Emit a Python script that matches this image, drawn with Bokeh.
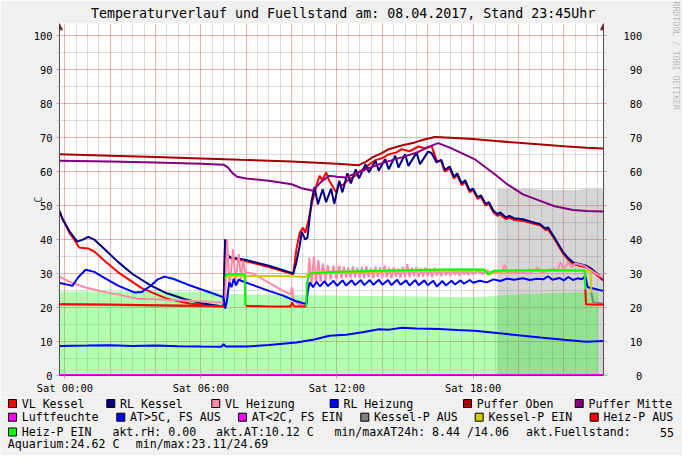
import math
from bokeh.plotting import figure
from bokeh.models import Range1d, LinearAxis, FixedTicker, Arrow, NormalHead, Title
from bokeh.layouts import column
from bokeh.embed import file_html
from bokeh.resources import INLINE
from bokeh.core.properties import value

NAN = float("nan")
MONO = "DejaVu Sans Mono"
NB = "\u00a0"

# ---------------- data (hours since Sat 00:00, degrees C) ----------------
TITLE = "Temperaturverlauf und Fuellstand am: 08.04.2017, Stand 23:45Uhr"
WATERMARK = "RRDTOOL / TOBI OETIKER"
X_TICKS = [0, 6, 12, 18]
X_TICK_LABELS = ["Sat 00:00", "Sat 06:00", "Sat 12:00", "Sat 18:00"]
X_MAJOR_GRID = [0, 2, 4, 6, 8, 10, 12, 14, 16, 18, 20, 22]
X_MINOR_GRID = [0.5, 1, 1.5, 2.5, 3, 3.5, 4.5, 5, 5.5, 6.5, 7, 7.5, 8.5, 9, 9.5, 10.5, 11, 11.5,
                12.5, 13, 13.5, 14.5, 15, 15.5, 16.5, 17, 17.5, 18.5, 19, 19.5, 20.5, 21, 21.5,
                22.5, 23, 23.5]
Y_TICKS = [0, 10, 20, 30, 40, 50, 60, 70, 80, 90, 100]
Y_MINOR = [5, 15, 25, 35, 45, 55, 65, 75, 85, 95]
Y_RIGHT_LABELS = [NB + NB + "0", NB + "10", NB + "20", NB + "30", NB + "40", NB + "50",
                  NB + "60", NB + "70", NB + "80", NB + "90", "100"]

fuellstand = [(19.07, 55.0), (20.5, 55.0), (21.0, 54.6), (22.6, 54.6), (23.0, 55.0), (23.74, 55.0)]
aquarium = [(-0.23, 24.69), (3.0, 24.69), (6.5, 24.6), (7.0, 24.0), (9.0, 23.8), (11.0, 23.6),
            (13.0, 23.4), (15.0, 23.3), (17.0, 23.11), (18.5, 23.2), (19.0, 23.4), (20.0, 23.9),
            (21.5, 24.2), (23.0, 24.55), (23.52, 24.62)]

vl_kessel = [(-0.23, 48.0), (0.0, 45.0), (0.2, 42.0), (0.41, 40.1), (0.63, 37.7), (1.03, 37.4),
             (1.3, 36.5), (1.8, 33.5), (2.37, 30.3), (3.39, 25.7), (4.55, 22.5), (5.5, 21.2),
             (6.3, 20.6), (7.0, 20.3), (7.07, 40.0), (7.14, 36.0), (7.3, 34.5), (8.0, 33.6),
             (9.0, 31.9), (10.07, 29.8), (10.21, 37.2), (10.36, 42.1), (10.5, 43.5), (10.6, 42.0),
             (10.72, 45.0), (10.94, 51.9), (11.1, 56.0), (11.23, 58.8), (11.35, 57.5), (11.52, 59.8),
             (11.66, 57.3), (11.96, 53.9), (12.1, 56.3), (12.25, 56.0), (12.54, 57.8), (12.83, 58.8),
             (13.0, 60.0), (13.26, 61.2), (13.5, 62.5), (13.7, 63.4), (14.0, 64.0), (14.28, 65.1),
             (14.6, 65.6), (14.86, 66.6), (15.2, 66.0), (15.59, 67.4), (15.9, 66.8), (16.17, 67.6),
             (16.39, 63.3), (16.6, 63.0), (16.75, 60.0), (16.97, 61.0), (17.15, 58.0), (17.3, 59.0),
             (17.5, 56.0), (17.65, 57.0), (17.85, 54.0), (18.0, 54.5), (18.2, 52.0), (18.35, 52.5),
             (18.55, 50.0), (18.7, 50.5), (18.9, 48.0), (19.07, 47.0), (19.2, 47.3), (19.45, 46.0),
             (19.6, 46.5), (19.8, 45.8), (20.2, 45.5), (20.6, 44.8), (20.96, 44.2), (21.2, 42.8),
             (21.3, 43.0), (21.54, 40.7), (21.98, 35.8), (22.2, 34.0), (22.41, 32.8), (23.0, 31.8),
             (23.2, 31.0), (23.74, 28.0)]

rl_kessel = [(-0.23, 48.5), (-0.1, 46.0), (0.2, 42.5), (0.55, 39.4), (0.8, 40.0), (1.03, 40.8),
             (1.3, 40.0), (1.7, 37.5), (2.37, 33.3), (3.0, 29.8), (3.82, 26.4), (4.5, 24.2),
             (5.27, 22.5), (6.0, 21.3), (6.6, 20.7), (7.0, 20.3), (7.07, 40.1), (7.14, 35.5),
             (7.3, 34.8), (8.0, 34.0), (9.0, 32.3), (10.07, 30.0), (10.2, 33.0), (10.35, 38.0),
             (10.45, 42.3), (10.6, 40.0), (10.7, 40.6), (10.87, 51.0), (11.01, 55.5), (11.16, 50.4),
             (11.37, 54.8), (11.52, 51.0), (11.74, 55.0), (11.88, 50.5), (12.1, 57.3), (12.24, 53.9),
             (12.46, 59.5), (12.61, 56.5), (12.83, 60.7), (12.97, 58.0), (13.26, 62.2), (13.41, 59.8),
             (13.7, 63.2), (13.84, 60.3), (14.13, 63.7), (14.28, 60.7), (14.57, 64.7), (14.71, 61.2),
             (15.0, 65.1), (15.15, 61.7), (15.51, 65.6), (15.66, 62.2), (16.02, 65.9), (16.17, 65.5),
             (16.39, 62.7), (16.6, 63.5), (16.75, 60.5), (16.97, 61.5), (17.15, 58.5), (17.3, 59.5),
             (17.5, 56.5), (17.65, 57.5), (17.85, 54.5), (18.0, 55.0), (18.2, 52.5), (18.35, 53.0),
             (18.55, 50.5), (18.7, 51.0), (18.9, 48.5), (19.07, 47.5), (19.2, 48.0), (19.45, 46.5),
             (19.6, 47.0), (19.8, 46.3), (20.2, 46.0), (20.6, 45.2), (20.96, 44.5), (21.2, 43.2),
             (21.3, 43.6), (21.54, 41.1), (21.98, 36.2), (22.2, 34.5), (22.41, 33.3), (23.0, 32.3),
             (23.2, 31.5), (23.74, 28.4)]

vl_heizung = [(-0.23, 29.1), (0.2, 27.6), (0.92, 25.9), (1.6, 24.8), (2.37, 23.8), (3.24, 22.5),
              (3.6, 22.6), (4.5, 22.3), (5.5, 22.0), (6.5, 21.6), (7.0, 21.5), (7.07, 23.0),
              (7.16, 40.1), (7.26, 25.9), (7.42, 37.2), (7.52, 27.4), (7.67, 35.7), (7.77, 28.4),
              (7.86, 33.8), (7.96, 30.3), (8.3, 30.0), (9.0, 27.3), (9.49, 25.4), (9.95, 23.9),
              (10.02, 25.9), (10.1, 22.0), (10.3, 21.0), (10.6, 20.8), (10.68, 24.0), (10.78, 34.7),
              (10.88, 26.4), (10.98, 35.0), (11.08, 27.0), (11.18, 34.0), (11.28, 27.5), (11.38, 33.0),
              (11.5, 28.0), (11.6, 32.5), (11.72, 28.3), (11.85, 32.3), (11.98, 28.4), (12.1, 32.3),
              (12.2, 28.6), (12.3, 32.0), (12.4, 28.8), (12.5, 31.8), (12.6, 28.7), (12.7, 32.1),
              (12.8, 28.9), (12.9, 31.7), (13.0, 28.8), (13.1, 31.9), (13.2, 28.6), (13.3, 32.1),
              (13.4, 28.9), (13.5, 31.6), (13.6, 28.7), (13.7, 32.0), (13.8, 29.0), (13.9, 31.8),
              (14.0, 28.8), (14.1, 32.4), (14.2, 28.9), (14.3, 31.7), (14.4, 28.7), (14.5, 31.9),
              (14.6, 29.1), (14.7, 31.6), (14.8, 28.8), (14.9, 32.0), (15.0, 29.0), (15.1, 32.8),
              (15.2, 28.9), (15.3, 31.7), (15.4, 29.2), (15.5, 31.9), (15.6, 28.9), (15.7, 31.5),
              (15.8, 29.1), (15.9, 31.8), (16.0, 29.3), (16.1, 31.4), (16.2, 29.0), (16.3, 31.7),
              (16.4, 29.4), (16.5, 31.2), (16.6, 29.2), (16.7, 31.5), (16.8, 29.5), (16.9, 31.1),
              (17.0, 29.3), (17.1, 31.3), (17.2, 29.6), (17.3, 31.0), (17.4, 29.4), (17.5, 31.2),
              (17.6, 29.7), (17.7, 30.9), (17.8, 29.5), (17.9, 31.1), (18.0, 29.8), (18.2, 30.8),
              (18.4, 29.9), (18.6, 31.0), (18.8, 30.0), (19.0, 30.7), (19.2, 29.9), (19.4, 32.6),
              (19.5, 30.4), (19.8, 30.1), (20.1, 30.6), (20.4, 29.9), (20.7, 30.8), (20.85, 31.8),
              (21.0, 30.2), (21.3, 30.8), (21.55, 31.5), (21.7, 30.6), (21.86, 33.4), (22.0, 31.0),
              (22.2, 33.5), (22.35, 31.8), (22.5, 33.0), (22.9, 32.3), (23.3, 30.5), (23.74, 28.7)]

rl_heizung = [(-0.23, 27.2), (0.0, 26.9), (0.34, 26.4), (0.6, 29.0), (0.92, 31.1), (1.3, 30.5),
              (1.8, 28.5), (2.37, 26.4), (3.09, 24.4), (3.4, 24.6), (3.8, 26.5), (4.1, 28.3),
              (4.4, 29.1), (4.8, 28.4), (5.4, 26.8), (6.0, 25.4), (6.6, 24.0), (7.0, 23.0),
              (7.07, 19.7), (7.15, 22.0), (7.25, 27.4), (7.35, 26.0), (7.45, 28.5), (7.55, 26.5),
              (7.67, 28.3), (7.8, 27.8), (8.18, 26.9), (9.0, 24.9), (9.63, 23.5), (10.14, 22.0),
              (10.65, 21.0), (10.72, 25.0), (10.8, 27.4), (10.95, 26.0), (11.1, 27.6), (11.25, 26.2),
              (11.45, 27.8), (11.6, 26.3), (11.85, 27.9), (12.0, 26.4), (12.25, 28.0), (12.4, 26.5),
              (12.65, 28.0), (12.8, 26.6), (13.05, 28.1), (13.2, 26.6), (13.45, 28.1), (13.6, 26.7),
              (13.85, 28.2), (14.0, 26.7), (14.25, 28.1), (14.4, 26.6), (14.65, 28.2), (14.8, 26.7),
              (15.05, 28.0), (15.2, 26.5), (15.45, 28.1), (15.6, 26.6), (15.85, 28.0), (16.0, 26.6),
              (16.25, 27.9), (16.4, 26.2), (16.65, 27.8), (16.8, 26.5), (17.05, 27.9), (17.2, 26.8),
              (17.45, 28.0), (17.6, 27.0), (17.85, 28.1), (18.0, 27.3), (18.3, 27.9), (18.6, 27.4),
              (18.9, 28.3), (19.2, 27.8), (19.5, 28.5), (19.8, 28.2), (20.2, 28.6), (20.5, 28.1),
              (20.8, 28.5), (21.1, 28.3), (21.3, 29.2), (21.5, 28.2), (21.8, 28.7), (22.0, 28.0),
              (22.2, 29.0), (22.4, 28.1), (22.6, 28.6), (22.8, 28.3), (22.95, 29.2), (23.05, 26.0),
              (23.3, 25.6), (23.74, 24.9)]

puffer_oben = [(-0.23, 65.1), (2.0, 64.7), (4.0, 64.3), (6.0, 63.9), (7.74, 63.5), (10.0, 63.0),
               (12.0, 62.3), (12.97, 61.9), (13.3, 63.0), (13.56, 64.2), (14.0, 65.5), (14.28, 66.6),
               (14.8, 67.6), (15.44, 68.6), (15.8, 69.4), (16.31, 70.2), (17.0, 70.0), (18.0, 69.6),
               (19.0, 69.0), (20.0, 68.5), (21.0, 68.0), (22.0, 67.5), (23.0, 67.0), (23.74, 66.8)]

puffer_mitte = [(-0.23, 63.2), (2.0, 63.0), (4.0, 62.7), (6.0, 62.3), (7.02, 62.0), (7.2, 61.2),
                (7.4, 59.5), (7.6, 58.5), (8.0, 58.0), (9.0, 57.3), (10.0, 56.3), (10.4, 55.2),
                (10.94, 54.4), (11.3, 57.0), (11.66, 58.8), (12.0, 58.5), (12.39, 58.3), (13.26, 60.7),
                (14.0, 62.5), (15.0, 64.5), (15.59, 65.8), (16.0, 67.2), (16.46, 68.4), (17.0, 67.0),
                (18.06, 63.7), (19.0, 59.0), (19.5, 56.3), (20.2, 53.3), (20.96, 51.4), (21.6, 49.8),
                (22.41, 48.7), (23.0, 48.4), (23.74, 48.3)]

luftfeuchte = [(-0.23, 0.0), (23.74, 0.0)]

aussentemp = [(-0.23, 8.7), (1.0, 8.8), (2.0, 8.9), (3.0, 8.7), (4.0, 8.8), (5.0, 8.6), (6.0, 8.5),
              (6.9, 8.44), (7.0, 9.2), (7.1, 8.5), (8.0, 8.5), (9.0, 9.0), (10.21, 9.7), (11.0, 10.6),
              (11.66, 11.7), (12.4, 12.0), (13.12, 12.7), (13.84, 13.6), (14.3, 13.5), (14.86, 14.06),
              (15.5, 13.8), (16.5, 13.7), (17.3, 13.4), (18.06, 13.2), (19.5, 12.2), (20.96, 11.2),
              (22.0, 10.5), (23.0, 9.9), (23.74, 10.12)]

kessel_p_aus = [(-0.23, 21.0), (7.0, 20.3), None, (23.21, 24.4), (23.3, 21.5), (23.74, 21.2)]
kessel_p_ein = [(7.08, 28.3), (7.12, 29.3), (8.5, 29.3), (10.0, 29.2), (10.62, 29.0), (10.7, 29.8),
                (10.9, 30.2), (12.0, 30.4), (14.0, 30.6), (16.0, 30.9), (17.5, 31.0), (18.5, 30.9),
                (18.7, 29.6), (18.95, 30.6), (20.5, 30.8), (22.0, 30.8), (23.18, 30.8), (23.21, 24.4)]
heiz_p_aus = [(-0.23, 21.0), (2.0, 20.9), (4.0, 20.7), (6.0, 20.5), (7.04, 20.3), None,
              (7.97, 20.5), (9.0, 20.3), (9.95, 20.3), (10.02, 21.5), (10.1, 20.4), (10.64, 20.3), None,
              (22.95, 25.4), (22.98, 21.0), (23.3, 20.9), (23.74, 20.8)]
heiz_p_ein = [(7.08, 28.8), (7.12, 29.9), (7.93, 29.9), (7.96, 20.6), None,
              (10.65, 20.3), (10.67, 26.9), (10.8, 30.0), (12.0, 30.5), (14.0, 30.8), (16.0, 31.1),
              (17.5, 31.3), (18.5, 31.2), (18.65, 29.8), (18.9, 30.8), (20.5, 31.0), (22.0, 31.0),
              (22.92, 30.9), (22.95, 25.4)]

LEGEND_ROW1 = ["VL Kessel", "RL Kessel", "VL Heizung", "RL Heizung", "Puffer Oben", "Puffer Mitte"]
LEGEND_ROW2 = ["Luftfeuchte", "AT>5C, FS AUS", "AT<2C, FS EIN", "Kessel-P AUS", "Kessel-P EIN", "Heiz-P AUS"]
LEGEND_ROW3 = ["Heiz-P EIN"]
INFO_ROW3 = ["akt.rH: 0.00", "akt.AT:10.12 C", "min/maxAT24h: 8.44 /14.06", "akt.Fuellstand:"]
INFO_ROW3_VALUE = "55"
INFO_ROW4 = ["Aquarium:24.62 C", "min/max:23.11/24.69"]

# ---------------- styles ----------------
COLORS = {
    "VL Kessel": "#ff0000", "RL Kessel": "#000080", "VL Heizung": "#ff8aa8", "RL Heizung": "#0000ff",
    "Puffer Oben": "#a50000", "Puffer Mitte": "#800080", "Luftfeuchte": "#ff00ff",
    "AT>5C, FS AUS": "#0000ff", "AT<2C, FS EIN": "#ff00ff", "Kessel-P AUS": "#808080",
    "Kessel-P EIN": "#cccc00", "Heiz-P AUS": "#ff0000", "Heiz-P EIN": "#00ff00",
}
BACK = "#f0f0f0"
ARROW_C = "#7f1f1f"
AXIS_C = "#4d4d4d"
TICK_FS = "10.4px"
LEG_FS = "11.6px"


def split(pairs):
    xs = [NAN if q is None else q[0] for q in pairs]
    ys = [NAN if q is None else q[1] for q in pairs]
    return xs, ys


X0, X1 = -0.233, 23.75
H1 = 397
p = figure(width=682, height=H1, x_range=Range1d(X0, X1), y_range=Range1d(0, 103.6),
           output_backend="svg", toolbar_location=None, title=TITLE,
           min_border_left=59, min_border_right=73, min_border_top=23, min_border_bottom=22,
           background_fill_color="white", border_fill_color=BACK, outline_line_color=None)
p.title.align = "left"
p.title.offset = 31.5
p.title.standoff = 6
p.title.text_font = MONO
p.title.text_font_size = "13.3px"
p.title.text_font_style = "normal"
p.title.text_color = "black"

# grids
p.xgrid.ticker = FixedTicker(ticks=X_MAJOR_GRID, minor_ticks=X_MINOR_GRID)
p.ygrid.ticker = FixedTicker(ticks=Y_TICKS, minor_ticks=Y_MINOR)
for g in (p.xgrid, p.ygrid):
    g.grid_line_color = "#de5050"
    g.grid_line_alpha = 0.45
    g.minor_grid_line_color = "#8f8f8f"
    g.minor_grid_line_alpha = 0.3

# axes
xa = p.xaxis[0]
xa.ticker = FixedTicker(ticks=X_TICKS)
xa.major_label_overrides = dict(zip(X_TICKS, X_TICK_LABELS))
ya = p.yaxis[0]
ya.ticker = FixedTicker(ticks=Y_TICKS, minor_ticks=Y_MINOR)
ya.axis_label = "C"
ya.axis_label_standoff = -13
ya.axis_label_text_font = MONO
ya.axis_label_text_font_size = TICK_FS
ya.axis_label_text_font_style = "normal"
yr = LinearAxis(ticker=FixedTicker(ticks=Y_TICKS, minor_ticks=Y_MINOR),
                major_label_overrides=dict(zip(Y_TICKS, Y_RIGHT_LABELS)),
                axis_label=NB, axis_label_text_font_size="1px", axis_label_standoff=21)
p.add_layout(yr, "right")
for ax in (xa, ya, yr):
    ax.axis_line_color = AXIS_C
    ax.axis_line_width = 1
    ax.major_label_text_font = MONO
    ax.major_label_text_font_size = TICK_FS
    ax.major_label_text_color = "black"
    ax.major_tick_in = 0
    ax.major_tick_out = 3
    ax.minor_tick_in = 0
    ax.minor_tick_out = 2
    ax.major_tick_line_color = "#e09090"
    ax.minor_tick_line_color = "#c0c0c0"
xa.minor_tick_out = 0
xa.major_label_standoff = 3
ya.major_label_standoff = 4
yr.major_label_standoff = 17

# watermark on the right side (placed after the right axis)
p.add_layout(Title(text=WATERMARK, align="left", offset=-22, standoff=0, vertical_align="bottom",
                   text_font=MONO, text_font_size="8.2px", text_font_style="normal",
                   text_color="#bdbdbd"), "right")

# areas
fx, fy = split(fuellstand)
p.varea(x=fx, y1=[0] * len(fx), y2=fy, fill_color="#808080", fill_alpha=0.33)
ax_, ay_ = split(aquarium)
p.varea(x=ax_, y1=[0] * len(ax_), y2=ay_, fill_color="#00ff00", fill_alpha=0.3)

# lines in legend order
series = [
    (vl_kessel, "VL Kessel", 2), (rl_kessel, "RL Kessel", 2), (vl_heizung, "VL Heizung", 2),
    (rl_heizung, "RL Heizung", 2), (puffer_oben, "Puffer Oben", 2), (puffer_mitte, "Puffer Mitte", 2),
    (luftfeuchte, "Luftfeuchte", 3), (aussentemp, "AT>5C, FS AUS", 2),
    (kessel_p_aus, "Kessel-P AUS", 2), (kessel_p_ein, "Kessel-P EIN", 2),
    (heiz_p_aus, "Heiz-P AUS", 2), (heiz_p_ein, "Heiz-P EIN", 2),
]
for pairs, name, w in series:
    xs, ys = split(pairs)
    p.line(xs, ys, line_color=COLORS[name], line_width=w)

# arrows at the top of both value axes
for xv in (X0, X1):
    p.add_layout(Arrow(end=NormalHead(size=6, fill_color=ARROW_C, line_color=ARROW_C),
                       x_start=xv, y_start=100, x_end=xv, y_end=103.5, line_alpha=0))

# ---------------- legend panel (own figure, pixel coordinates) ----------------
H2 = 455 - H1
q = figure(width=682, height=H2, x_range=Range1d(0, 682), y_range=Range1d(H2, 0),
           output_backend="svg", toolbar_location=None, min_border=0,
           x_axis_location=None, y_axis_location=None,
           background_fill_color=BACK, border_fill_color=BACK, outline_line_color=None)
q.grid.visible = False
for fig in (p, q):
    if "frame_align" in fig.properties():
        fig.frame_align = False

PX, PY = 8, 8 + H1  # page offset of the legend panel
ROW_Y = [411.0, 424.7, 439.5, 451.7]
ROW1_X = [30, 128.3, 233.3, 351.7, 485, 596.7]
ROW2_X = [30, 138.3, 260, 382.3, 496.7, 611.7]
ROW3_X = [30]
INFO3_X = [120.7, 224.3, 342.7, 534.3]
INFO3_VALUE_RIGHT = 681.5
INFO4_X = [16, 144]

sw_x, sw_y, sw_c, tx_x, tx_y, tx_t = [], [], [], [], [], []
for names, xs_, ry in ((LEGEND_ROW1, ROW1_X, ROW_Y[0]), (LEGEND_ROW2, ROW2_X, ROW_Y[1]),
                       (LEGEND_ROW3, ROW3_X, ROW_Y[2])):
    for nm, tx in zip(names, xs_):
        sw_x.append(tx - 10 - PX)
        sw_y.append(ry - PY)
        sw_c.append(COLORS[nm])
        tx_x.append(tx - 0.8 - PX)
        tx_y.append(ry - PY)
        tx_t.append(nm)
for texts, xs_, ry in ((INFO_ROW3, INFO3_X, ROW_Y[2]), (INFO_ROW4, INFO4_X, ROW_Y[3])):
    for t, tx in zip(texts, xs_):
        tx_x.append(tx - 0.8 - PX)
        tx_y.append(ry - PY)
        tx_t.append(t)

q.rect(x=sw_x, y=sw_y, width=8, height=8, fill_color=sw_c, line_color="black", line_width=1)
q.text(x=tx_x, y=tx_y, text=tx_t, text_font=value(MONO), text_font_size=LEG_FS,
       text_baseline="middle", text_align="left", text_color="black")
q.text(x=[INFO3_VALUE_RIGHT - PX], y=[ROW_Y[2] - PY], text=[INFO_ROW3_VALUE], text_font=value(MONO),
       text_font_size=LEG_FS, text_baseline="middle", text_align="right", text_color="black")

layout = column(p, q, spacing=0)
open("out.html", "w").write(file_html(layout, INLINE))
